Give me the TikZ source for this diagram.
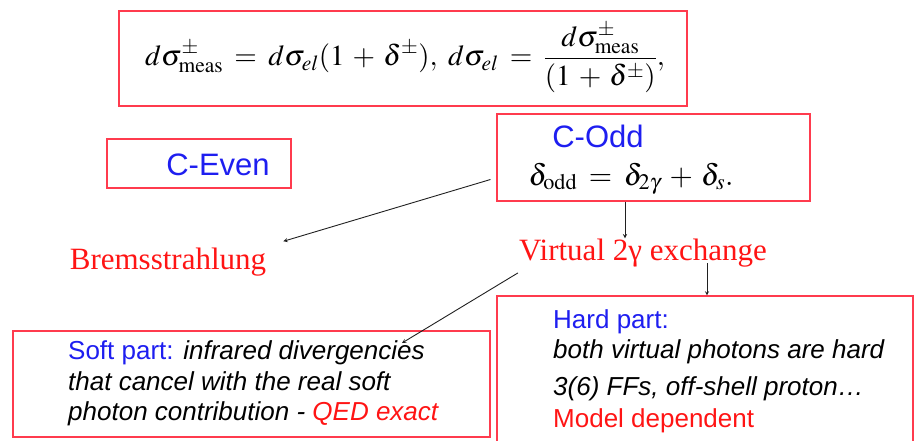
\documentclass[tikz,border=0pt]{standalone}
\usepackage{mathptmx}
\usepackage{fontspec}
\setmainfont{Liberation Serif}
\setsansfont{Liberation Sans}
\usetikzlibrary{arrows.meta,calc}
\definecolor{BoxRed}{HTML}{FF3B4E}
\definecolor{TextRed}{HTML}{FF1414}
\definecolor{TextBlue}{HTML}{1E1EF0}
\definecolor{Ink}{HTML}{202020}
\newcommand{\widemath}{\thickmuskip=7mu \medmuskip=5mu }

\begin{document}
\begin{tikzpicture}[x=1pt,y=-1pt,>=stealth,
  redbox/.style={draw=BoxRed,line width=1.1pt,inner sep=0pt},
  bigserif/.style={font=\fontsize{31}{33}\selectfont,text=TextRed,inner sep=0pt,anchor=base},
  bigsans/.style={font=\sffamily\fontsize{31}{33}\selectfont,text=TextBlue,inner sep=0pt,anchor=base},
  smallsans/.style={font=\sffamily\fontsize{26}{28}\selectfont,inner sep=0pt,anchor=base west},
  link/.style={Ink,line width=0.9pt}]
\useasboundingbox (0,0) rectangle (917,440);
\clip (0,0) rectangle (917,440);
\node[redbox,minimum width=568pt,minimum height=95pt] (meas) at (403,58.5) {};
\node[inner sep=0pt,font=\fontsize{29}{31}\selectfont] (measeq) at (405,58) {$\widemath\displaystyle d\sigma^{\pm}_{\mathrm{meas}} = d\sigma_{el}(1+\delta^{\pm}),\ d\sigma_{el} = \frac{d\sigma^{\pm}_{\mathrm{meas}}}{(1+\delta^{\pm})},$};
\node[redbox,minimum width=184pt,minimum height=49pt] (even) at (199,163.5) {};
\node[bigsans] (evenlbl) at (218,175) {C-Even};
\node[redbox,minimum width=313pt,minimum height=87pt] (odd) at (653.5,157.5) {};
\node[bigsans] (oddlbl) at (598,147) {C-Odd};
\node[inner sep=0pt,anchor=base,font=\fontsize{30}{32}\selectfont] (oddeq) at (631,185) {$\widemath\delta_{\mathrm{odd}} = \delta_{2\gamma} + \delta_{s}.$};
\node[bigserif] (brems) at (168,269) {Bremsstrahlung};
\node[bigserif] (virt) at (643,260) {Virtual 2γ exchange};
\node[redbox,minimum width=477pt,minimum height=106pt] (soft) at (251.5,384) {};
\node[smallsans] (softa) at (68,359) {{\color{TextBlue}Soft part:} \textit{infrared divergencies}};
\node[smallsans] (softb) at (68,390) {\textit{that cancel with the real soft}};
\node[smallsans] (softc) at (68,420) {\textit{photon contribution - {\color{TextRed}QED exact}}};
\node[redbox,minimum width=416pt,minimum height=150pt] (hard) at (705,371) {};
\node[smallsans,text=TextBlue] (harda) at (553,328) {Hard part:};
\node[smallsans] (hardb) at (553,358) {\textit{both virtual photons are hard}};
\node[smallsans] (hardc) at (553,395) {\textit{3(6) FFs, off-shell proton…}};
\node[smallsans,text=TextRed] (hardd) at (553,427) {Model dependent};
\draw[->,link] ([shift={(-6,22)}]odd.west) -- ([shift={(17,-6)}]brems.north east);
\draw[->,link] ([xshift=-28.5]odd.south) -- ([xshift=-18]virt.north);
\draw[->,link] ([shift={(64,3)}]virt.base) -- ([xshift=2]hard.north);
\draw[->,link] ([shift={(-1,6)}]virt.south west) -- ([shift={(334,-16)}]softa.base west);
\end{tikzpicture}
\end{document}
